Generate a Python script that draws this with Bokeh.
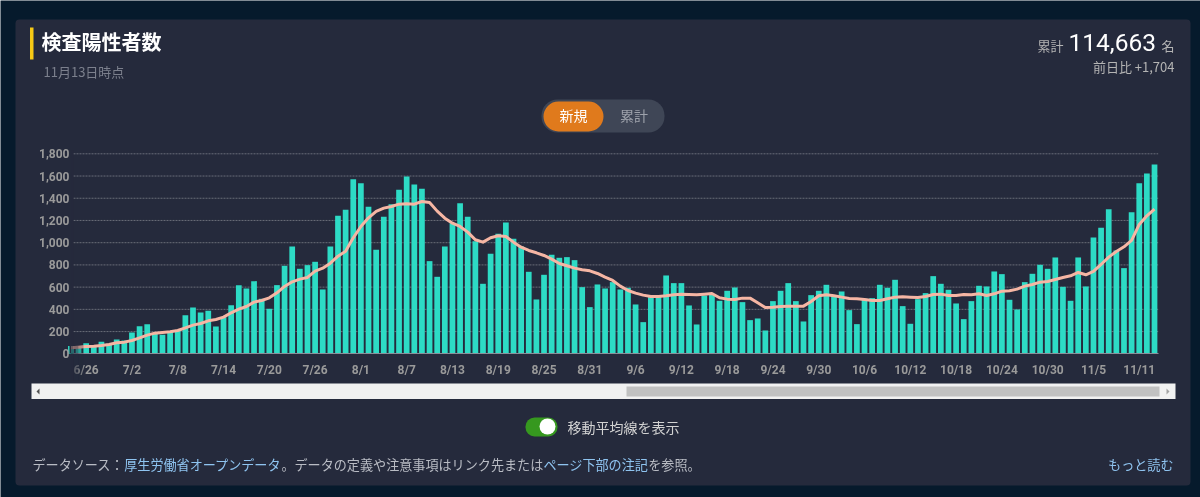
"""Recreates the 検査陽性者数 daily bar chart with its moving average line."""
from bokeh.embed import file_html
from bokeh.models import (
    BoxAnnotation, FixedTicker, Label, NumeralTickFormatter, PolyAnnotation, Range1d,
)
from bokeh.plotting import figure
from bokeh.resources import INLINE

# one value per day, 6/24 to 11/13
daily = [
    70, 60, 96, 66, 108, 90, 129, 120, 192, 249, 267, 186, 171, 201, 210, 348, 417, 372,
    387, 246, 330, 438, 618, 588, 654, 495, 405, 618, 792, 966, 765, 798, 828, 579, 966,
    1242, 1296, 1572, 1536, 1323, 936, 1233, 1347, 1476, 1596, 1524, 1485, 834, 693, 966,
    1176, 1356, 1233, 1014, 630, 900, 1080, 1182, 1035, 966, 738, 489, 711, 891, 864, 870,
    843, 600, 420, 624, 588, 645, 579, 594, 444, 285, 510, 510, 705, 636, 636, 435, 264,
    525, 534, 477, 567, 597, 465, 303, 318, 210, 474, 567, 636, 474, 291, 528, 567, 621,
    519, 561, 393, 267, 495, 501, 621, 594, 666, 429, 270, 492, 546, 699, 630, 576, 453,
    312, 474, 612, 606, 741, 717, 486, 399, 645, 720, 801, 765, 867, 603, 477, 867, 606,
    1047, 1134, 1302, 930, 771, 1275, 1536, 1623, 1704,
]
moving_avg = [
    54, 60, 66, 69, 75, 84, 99, 105, 120, 144, 168, 186, 192, 198, 210, 234, 258, 273,
    297, 309, 330, 369, 402, 426, 465, 480, 504, 549, 606, 648, 672, 687, 744, 771, 816,
    879, 924, 1044, 1146, 1224, 1281, 1311, 1326, 1347, 1350, 1347, 1371, 1362, 1284, 1221,
    1176, 1146, 1095, 1026, 1005, 1044, 1062, 1056, 1005, 960, 930, 909, 885, 852, 813,
    792, 771, 756, 747, 723, 690, 660, 609, 570, 546, 528, 516, 516, 522, 531, 537, 534,
    531, 537, 543, 504, 492, 489, 501, 501, 459, 417, 420, 426, 429, 429, 429, 471, 522,
    531, 522, 510, 498, 495, 489, 480, 480, 495, 510, 513, 510, 507, 516, 534, 537, 525,
    525, 534, 531, 540, 525, 540, 564, 567, 582, 609, 624, 645, 651, 669, 687, 702, 732,
    711, 741, 804, 870, 921, 963, 1020, 1164, 1242, 1302,
]
date_ticks = [2, 8, 14, 20, 26, 32, 38, 44, 50, 56, 62, 68, 74, 80, 86, 92, 98, 104, 110, 116, 122, 128, 134, 140]
date_labels = [
    "6/26", "7/2", "7/8", "7/14", "7/20", "7/26", "8/1", "8/7", "8/13", "8/19", "8/25", "8/31",
    "9/6", "9/12", "9/18", "9/24", "9/30", "10/6", "10/12", "10/18", "10/24", "10/30", "11/5", "11/11",
]
count_ticks = [0, 200, 400, 600, 800, 1000, 1200, 1400, 1600, 1800]

PAGE = "#061a2c"
CARD = "#252a3c"
CJK = "Noto Sans CJK JP"
W, H = 1200, 497

# annotations get clipped to the frame, so the frame is the whole page and the
# chart area is placed through the ranges: index 2 at x=85.67, 0 at y=353.3
PX_PER_DAY = 7.631
PX_PER_COUNT = 200 / 1800
x_start = 2 - 85.67 / PX_PER_DAY
y_start = -(H - 353.3) / PX_PER_COUNT
x_left, x_right = 0.34, 142.48

p = figure(
    width=W, height=H, output_backend="svg", toolbar_location=None,
    x_range=Range1d(x_start, x_start + W / PX_PER_DAY),
    y_range=Range1d(y_start, y_start + H / PX_PER_COUNT),
    min_border_left=0, min_border_right=0, min_border_top=0, min_border_bottom=0,
    background_fill_color=PAGE, border_fill_color=PAGE, outline_line_color=None,
)
# fill the 8px page margin too
p.styles = {"position": "fixed", "left": "0", "top": "0"}


def box(left, right, top, bottom, color, radius=0, alpha=1.0, level="image"):
    p.add_layout(BoxAnnotation(
        left=left, right=right, top=H - top, bottom=H - bottom,
        left_units="screen", right_units="screen", top_units="screen", bottom_units="screen",
        fill_color=color, fill_alpha=alpha, line_color=None, border_radius=radius, level=level,
    ))


def text(x, y, s, size, color, align="left", style="normal", font=CJK):
    p.add_layout(Label(
        x=x, y=H - y, x_units="screen", y_units="screen", text=s, text_font=font,
        text_font_size=f"{size}px", text_color=color, text_align=align,
        text_baseline="middle", text_font_style=style,
    ))


def triangle(xs, ys, color):
    p.add_layout(PolyAnnotation(
        xs=xs, ys=[H - y for y in ys], xs_units="screen", ys_units="screen",
        fill_color=color, fill_alpha=1, line_color=None, level="overlay",
    ))


box(15, 1190, 19, 485, CARD, radius=4)

grid_vals = count_ticks[1:]
p.segment(x0=[x_left] * len(grid_vals), x1=[x_right] * len(grid_vals), y0=grid_vals, y1=grid_vals,
          line_color="#696d78", line_dash="2 1", line_width=1)
p.vbar(x=list(range(len(daily))), top=daily, width=0.75, color="#2ddbc5", line_color=None)
p.line(list(range(len(moving_avg))), moving_avg, line_color="#f6b6a4", line_width=3, line_join="round")

p.xaxis.fixed_location = 0
p.yaxis.fixed_location = x_left
p.xaxis.bounds = (x_left, x_right)
p.yaxis.bounds = (0, 1800)
p.xaxis.ticker = FixedTicker(ticks=date_ticks)
p.xaxis.major_label_overrides = dict(zip(date_ticks, date_labels))
p.yaxis.ticker = FixedTicker(ticks=count_ticks)
p.yaxis.formatter = NumeralTickFormatter(format="0,0")
p.axis.major_tick_line_color = None
p.axis.minor_tick_line_color = None
p.axis.major_tick_out = 0
p.axis.major_tick_in = 0
p.axis.major_label_text_font = "Roboto"
p.axis.major_label_text_font_size = "12px"
p.axis.major_label_text_font_style = "bold"
p.axis.major_label_text_color = "#9a9a9a"
p.xaxis.axis_line_color = "#8a8f99"
p.yaxis.axis_line_color = None
p.xaxis.major_label_standoff = 9
p.yaxis.major_label_standoff = 4
p.grid.grid_line_color = None

# header
box(29.5, 33, 27, 59, "#f6c915")
text(41, 40.5, "検査陽性者数", 20, "#ffffff", style="bold")
text(43, 71, "11月13日時点", 13, "#7c808d")
text(1063, 45, "累計", 13, "#b4b4b4", align="right")
text(1068, 42, "114,663", 24.5, "#ffffff", font="Roboto")
text(1174, 45, "名", 13, "#b4b4b4", align="right")
text(1174, 66, "前日比 +1,704", 13, "#b4b4b4", align="right")

# 新規 / 累計 switch
box(541, 664, 99, 132, "#3f4656", radius=16)
box(543, 603, 101, 131, "#e07a1c", radius=15)
text(573, 114.5, "新規", 14, "#ffffff", align="center")
text(633.5, 114.5, "累計", 14, "#9ea2ab", align="center")

# left edge of the chart fades out
box(69, 70.5, 338, 353, CARD, level="overlay")
box(70.5, 73, 150, 380, CARD, alpha=0.65, level="overlay")
box(73, 78, 345, 380, CARD, alpha=0.55, level="overlay")
box(78, 83, 345, 380, CARD, alpha=0.3, level="overlay")

# scroll bar
box(31, 1175, 383, 398.5, "#f1f1f1", level="overlay")
box(626, 1159, 386, 396, "#c1c1c1", level="overlay")
triangle([36, 39, 39], [391, 388, 394], "#505050")
triangle([1166, 1169, 1166], [388, 391, 394], "#a3a3a3")

# moving average toggle
box(525, 557, 417, 436, "#36981f", radius=9)
box(539, 555, 418, 434, "#ffffff", radius=8)
text(567, 426, "移動平均線を表示", 14, "#d2d2d2")

# footer
FOOT = 13.1
footer = [
    ("データソース：", "#b9bcc4"),
    ("厚生労働省オープンデータ", "#8fc4f0"),
    ("。データの定義や注意事項はリンク先または", "#b9bcc4"),
    ("ページ下部の注記", "#8fc4f0"),
    ("を参照。", "#b9bcc4"),
]
x_text = 32
for s, c in footer:
    text(x_text, 464, s, FOOT, c)
    x_text += len(s) * FOOT
text(1173, 464, "もっと読む", FOOT, "#8fc4f0", align="right")

open("out.html", "w").write(file_html(p, INLINE))
